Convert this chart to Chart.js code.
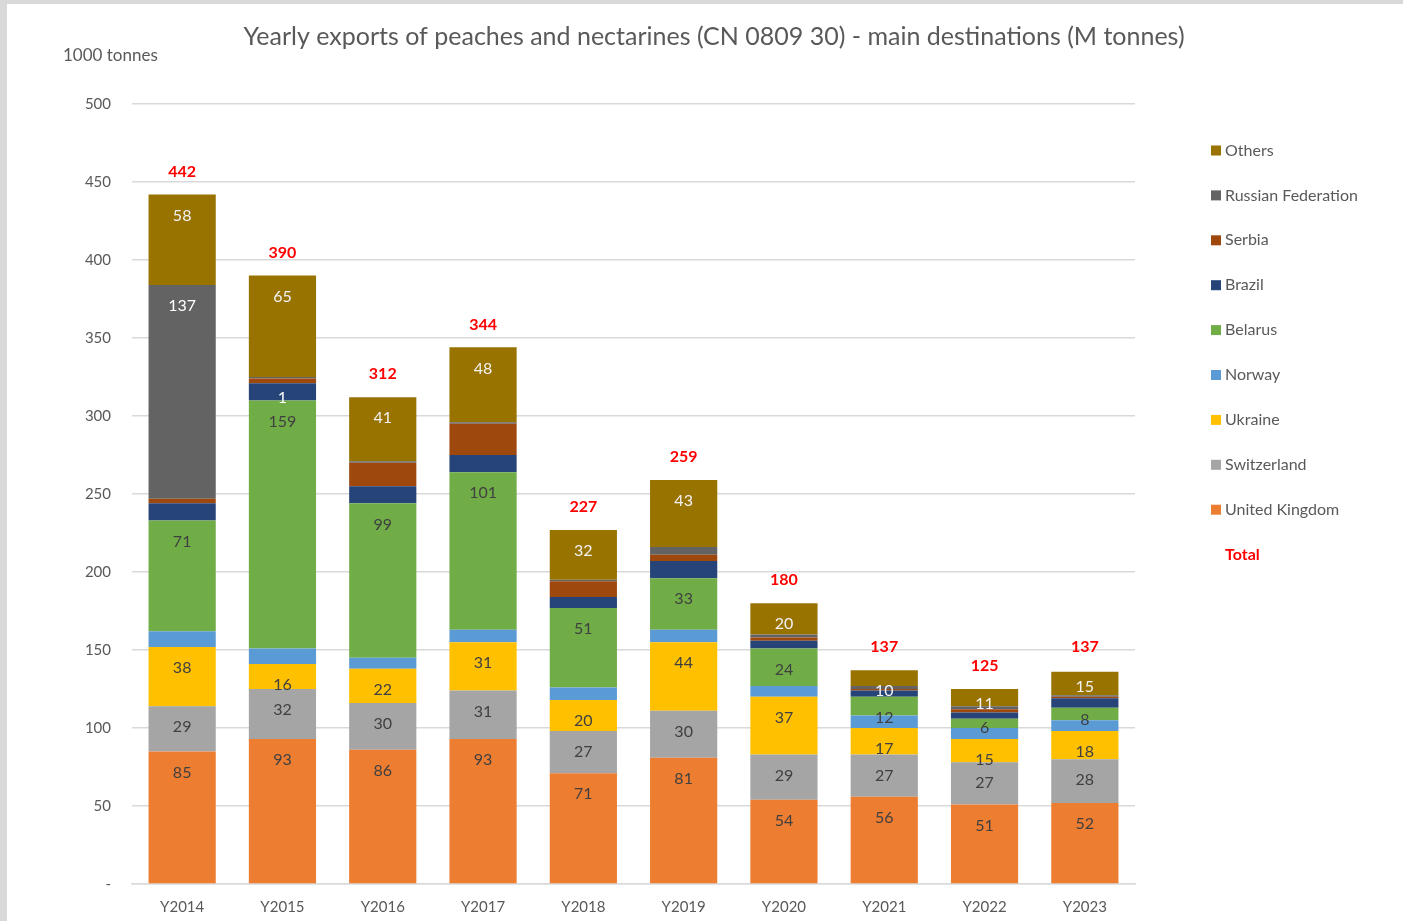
<!DOCTYPE html>
<html>
<head>
<meta charset="utf-8">
<script src="https://cdn.jsdelivr.net/npm/chart.js@4/dist/chart.umd.min.js"></script>
<style>
  html, body { margin: 0; padding: 0; background: #ffffff; }
  canvas { display: block; }
</style>
</head>
<body>
<canvas id="c" width="1403" height="921"></canvas>
<script>
const categories = ['Y2014','Y2015','Y2016','Y2017','Y2018','Y2019','Y2020','Y2021','Y2022','Y2023'];
const unitedKingdom = [85, 93, 86, 93, 71, 81, 54, 56, 51, 52];
const switzerland   = [29, 32, 30, 31, 27, 30, 29, 27, 27, 28];
const ukraine       = [38, 16, 22, 31, 20, 44, 37, 17, 15, 18];
const norway        = [10, 10, 7, 8, 8, 8, 7, 8, 7, 7];
const belarus       = [71, 159, 99, 101, 51, 33, 24, 12, 6, 8];
const brazil        = [11, 11, 11, 11, 7, 11, 5, 4, 4, 6];
const serbia        = [3, 3, 15, 20, 10, 4, 2, 1, 2, 1];
const russia        = [137, 1, 1, 1, 1, 5, 2, 2, 2, 1];
const others        = [58, 65, 41, 48, 32, 43, 20, 10, 11, 15];
const totals        = [442, 390, 312, 344, 227, 259, 180, 137, 125, 137];
const yTicks        = [0, 50, 100, 150, 200, 250, 300, 350, 400, 450, 500];

const titleText = 'Yearly exports of peaches and nectarines (CN 0809 30) - main destinations (M tonnes)';
const unitText = '1000 tonnes';
const FONT = 'Lato, "Open Sans", sans-serif';
const TEXT = '#595959';

const series = [
  { label: 'United Kingdom', data: unitedKingdom, color: '#ED7D31', lbl: '#404040' },
  { label: 'Switzerland', data: switzerland, color: '#A5A5A5', lbl: '#404040' },
  { label: 'Ukraine', data: ukraine, color: '#FFC000', lbl: '#404040' },
  { label: 'Norway', data: norway, color: '#5B9BD5', lbl: null },
  { label: 'Belarus', data: belarus, color: '#70AD47', lbl: '#404040' },
  { label: 'Brazil', data: brazil, color: '#264478', lbl: null },
  { label: 'Serbia', data: serbia, color: '#9E480E', lbl: null },
  { label: 'Russian Federation', data: russia, color: '#636363', lbl: '#FFFFFF', only: [0, 1] },
  { label: 'Others', data: others, color: '#997300', lbl: '#F2F2F2', tight: true }
];

const framePlugin = {
  id: 'frame',
  beforeDraw(chart) {
    const ctx = chart.ctx;
    ctx.save();
    ctx.fillStyle = '#ffffff';
    ctx.fillRect(0, 0, chart.width, chart.height);
    ctx.fillStyle = '#D9D9D9';
    ctx.fillRect(0, 0, chart.width, 4);
    ctx.fillRect(0, 0, 7, chart.height);
    ctx.restore();
  }
};

const textPlugin = {
  id: 'texts',
  afterDraw(chart) {
    const ctx = chart.ctx;
    ctx.save();
    // title
    ctx.fillStyle = TEXT;
    ctx.font = '25px ' + FONT;
    ctx.textAlign = 'center';
    ctx.textBaseline = 'middle';
    ctx.fillText(titleText, 714, 37);
    // unit
    ctx.font = '17px ' + FONT;
    ctx.textAlign = 'left';
    ctx.fillText(unitText, 63, 56);

    // data labels
    ctx.textAlign = 'center';
    ctx.textBaseline = 'middle';
    chart.data.datasets.forEach((ds, di) => {
      const s = series[di];
      if (!s || !s.lbl) return;
      const meta = chart.getDatasetMeta(di);
      meta.data.forEach((bar, i) => {
        if (s.only && s.only.indexOf(i) < 0) return;
        const v = ds.data[i];
        if (!v) return;
        const top = Math.min(bar.y, bar.base);
        const h = Math.abs(bar.base - bar.y);
        let off = (h > 5 && h < 15) ? h : 21;
        if (s.tight && h > 16.5 && h < 25) off = 15;
        ctx.fillStyle = s.lbl;
        ctx.font = '16px ' + FONT;
        ctx.fillText(String(v), bar.x, top + off);
      });
    });

    // totals
    const lastMeta = chart.getDatasetMeta(chart.data.datasets.length - 1);
    ctx.fillStyle = '#FF0000';
    ctx.font = 'bold 16px ' + FONT;
    lastMeta.data.forEach((bar, i) => {
      const y = chart.scales.y.getPixelForValue(totals[i]);
      ctx.fillText(String(totals[i]), bar.x, y - 23);
    });

    // legend
    const order = series.slice().reverse();
    ctx.textAlign = 'left';
    ctx.font = '16px ' + FONT;
    order.forEach((s, k) => {
      const y = 150.5 + k * 44.9;
      ctx.fillStyle = s.color;
      ctx.fillRect(1211, y - 5, 10, 10);
      ctx.fillStyle = TEXT;
      ctx.fillText(s.label, 1225, y);
    });
    ctx.fillStyle = '#FF0000';
    ctx.font = 'bold 16px ' + FONT;
    ctx.fillText('Total', 1225, 150.5 + 9 * 44.9);
    ctx.restore();
  }
};

new Chart(document.getElementById('c'), {
  type: 'bar',
  data: {
    labels: categories,
    datasets: series.map(s => ({
      label: s.label,
      data: s.data,
      backgroundColor: s.color,
      borderWidth: 0,
      categoryPercentage: 1.0,
      barPercentage: 0.67
    }))
  },
  options: {
    responsive: false,
    animation: false,
    devicePixelRatio: 1,
    layout: { padding: { top: 104, right: 268, bottom: 0, left: 0 } },
    plugins: {
      legend: { display: false },
      title: { display: false },
      tooltip: { enabled: false }
    },
    scales: {
      x: {
        stacked: true,
        grid: { display: false, drawTicks: false },
        border: { display: true, color: '#D9D9D9', width: 1.5 },
        ticks: { color: TEXT, font: { family: FONT, size: 15 }, padding: 14 },
        afterFit(scale) { scale.height = 37; }
      },
      y: {
        stacked: true,
        min: 0,
        max: 500,
        afterBuildTicks(scale) { scale.ticks = yTicks.map(v => ({ value: v })); },
        grid: { color: '#D9D9D9', lineWidth: 1.5, drawTicks: false },
        border: { display: false },
        ticks: {
          color: TEXT,
          font: { family: FONT, size: 15 },
          padding: 21,
          callback: v => (v === 0 ? '-' : String(v))
        },
        afterFit(scale) { scale.width = 132; }
      }
    }
  },
  plugins: [framePlugin, textPlugin]
});
</script>
</body>
</html>
